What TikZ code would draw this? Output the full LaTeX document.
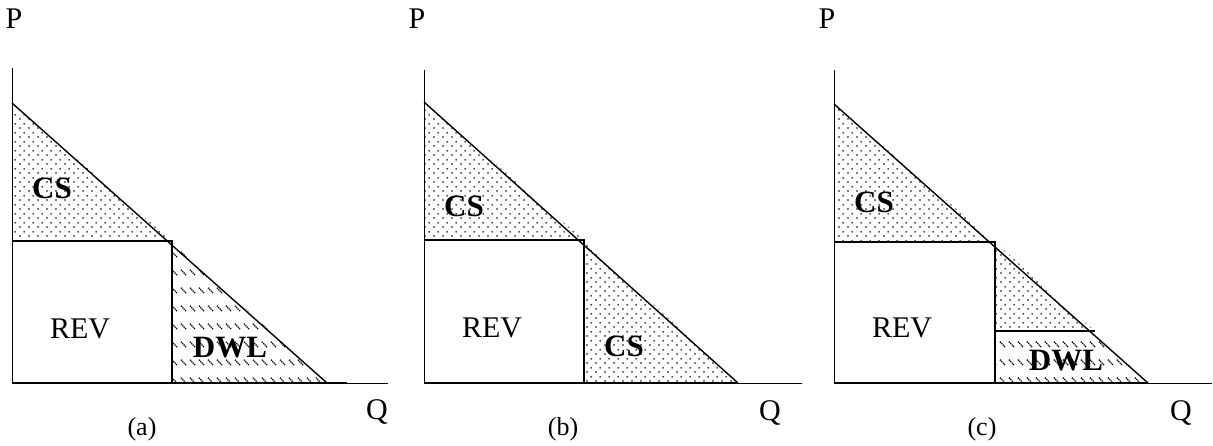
\documentclass[tikz,border=0pt]{standalone}
\usepackage{fontspec}
\setmainfont{Liberation Serif}
\usetikzlibrary{patterns.meta}
\tikzdeclarepattern{
  name=csdots,
  bounding box={(0pt,0pt) and (9pt,9pt)},
  tile size={(9pt,9pt)},
  code={
    \fill[black!75] (2.25pt,2.25pt) circle (0.95pt);
    \fill[black!75] (6.75pt,6.75pt) circle (0.95pt);
  }
}
\tikzdeclarepattern{
  name=dwlhatch,
  bounding box={(0pt,0pt) and (9pt,18pt)},
  tile size={(9pt,18pt)},
  code={
    \draw[black!80, line width=1.3pt, dash pattern=on 1.4pt off 0.8pt] (1pt,15pt) -- (7pt,9pt);
  }
}
\tikzset{
  axisline/.style={line width=1pt},
  curveline/.style={line width=1.4pt, line join=miter},
  csfill/.style={pattern={csdots}},
  dwlfill/.style={pattern={dwlhatch}},
  lbl/.style={inner sep=0pt, font=\fontsize{30pt}{36pt}\selectfont},
  blbl/.style={inner sep=0pt, font=\fontsize{31pt}{37pt}\selectfont\bfseries},
  captxt/.style={inner sep=0pt, font=\fontsize{26pt}{32pt}\selectfont}
}
\begin{document}
\begin{tikzpicture}[x=1pt,y=-1pt]
\useasboundingbox (0,0) rectangle (1213,445);
% ---------------- panel (a)
\coordinate (aT) at (12,68);
\coordinate (aO) at (12,383);
\coordinate (aA) at (12,103);
\coordinate (aB) at (12,241);
\coordinate (aC) at (172,241);
\coordinate (aD) at (172,383);
\coordinate (aE) at (327,383);
\coordinate (aF) at (347,383);
\coordinate (aX) at (388,383);
\fill[csfill] (aA) -- (aC) -- (aB) -- cycle;
\fill[dwlfill] (aC) -- (aE) -- (aD) -- cycle;
\draw[axisline] (aT) -- (aO) -- (aX);
\draw[curveline] (aO) -- (aF);
\draw[curveline] (aA) -- (aE);
\draw[curveline] (aB) -- (aC) -- (aD);
\node[lbl] (aP) at (14,19) {P};
\node[lbl] (aQ) at (377,412) {Q};
\node[blbl] (aCS) at (52,188) {CS};
\node[lbl] (aREV) at (80,329) {REV};
\node[blbl] (aDWL) at (230,348) {DWL};
\node[captxt] (acap) at (142,429) {(a)};
% ---------------- panel (b)
\coordinate (bT) at (424,70);
\coordinate (bO) at (424,383);
\coordinate (bA) at (424,102);
\coordinate (bB) at (424,240);
\coordinate (bC) at (584,240);
\coordinate (bD) at (584,383);
\coordinate (bE) at (738,383);
\coordinate (bX) at (802,383);
\fill[csfill] (bA) -- (bC) -- (bB) -- cycle;
\fill[csfill] (bC) -- (bE) -- (bD) -- cycle;
\draw[axisline] (bT) -- (bO) -- (bX);
\draw[curveline] (bO) -- (bE);
\draw[curveline] (bA) -- (bE);
\draw[curveline] (bB) -- (bC) -- (bD);
\node[lbl] (bP) at (417,19) {P};
\node[lbl] (bQ) at (770,413) {Q};
\node[blbl] (bCS1) at (464,206) {CS};
\node[lbl] (bREV) at (492,328) {REV};
\node[blbl] (bCS2) at (624,346) {CS};
\node[captxt] (bcap) at (563,429) {(b)};
% ---------------- panel (c)
\coordinate (cT) at (834,70);
\coordinate (cO) at (834,383);
\coordinate (cA) at (834,104);
\coordinate (cB) at (834,242);
\coordinate (cC) at (995,242);
\coordinate (cD) at (995,383);
\coordinate (cG) at (995,331);
\coordinate (cH) at (1095,331);
\coordinate (cE) at (1148,383);
\coordinate (cX) at (1212,383);
\fill[csfill] (cA) -- (cC) -- (cB) -- cycle;
\fill[csfill] (cC) -- (cH) -- (cG) -- cycle;
\fill[dwlfill] (cG) -- (cH) -- (cE) -- (cD) -- cycle;
\draw[axisline] (cT) -- (cO) -- (cX);
\draw[curveline] (cO) -- (cE);
\draw[curveline] (cA) -- (cE);
\draw[curveline] (cB) -- (cC) -- (cD);
\draw[curveline] (cG) -- (cH);
\node[lbl] (cP) at (827,19) {P};
\node[lbl] (cQ) at (1181,413) {Q};
\node[blbl] (cCS) at (874,202) {CS};
\node[lbl] (cREV) at (902,328) {REV};
\node[blbl] (cDWL) at (1066,361) {DWL};
\node[captxt] (ccap) at (982,429) {(c)};
\end{tikzpicture}
\end{document}
